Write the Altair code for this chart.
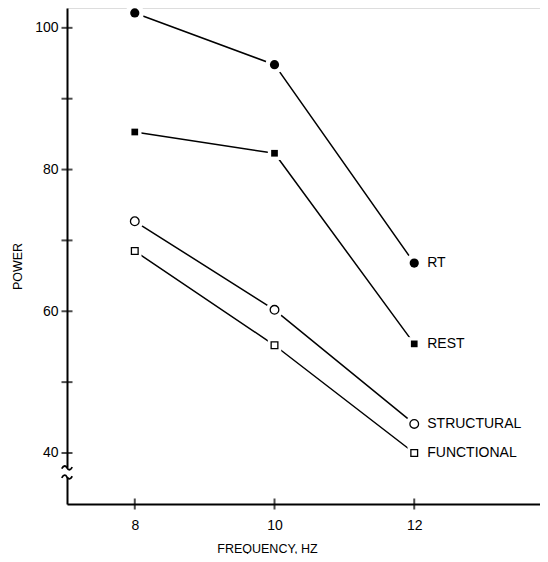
import altair as alt
import pandas as pd

freqs = [8, 10, 12]
series_names = ["RT", "REST", "STRUCTURAL", "FUNCTIONAL"]
rt = [102.1, 94.8, 66.8]
rest = [85.3, 82.3, 55.4]
structural = [72.7, 60.2, 44.1]
functional = [68.5, 55.2, 40.0]
marker_shapes = ["circle", "square", "circle", "square"]
marker_filled = [True, True, False, False]
marker_sizes = [85, 45, 75, 45]

y_ticks = [40, 50, 60, 70, 80, 90, 100]
y_labels = [40, 60, 80, 100]
x_ticks = [8, 10, 12]
break_marks = [37.9, 36.6]

rows = []
for name, vals, shp, fil, sz in zip(series_names, [rt, rest, structural, functional],
                                    marker_shapes, marker_filled, marker_sizes):
    for f, v in zip(freqs, vals):
        rows.append({"series": name, "freq": f, "power": v, "shape": shp,
                     "filled": fil, "msize": sz, "hsize": sz * 4})
df = pd.DataFrame(rows)

W, H = 473, 496
FONT = "Liberation Sans"
xs = alt.Scale(domain=[7.03, 13.8], nice=False, zero=False)
ys = alt.Scale(domain=[32.8, 102.8], nice=False, zero=False)

x_axis = alt.Axis(values=x_ticks, format="d", ticks=False, grid=False, domainColor="black",
                  domainWidth=2, labelFontSize=14, labelFont=FONT, labelColor="black",
                  labelPadding=14, title="FREQUENCY, HZ", titleFont=FONT, titleFontSize=12.5,
                  titleFontWeight="normal", titleColor="black", titlePadding=10,
                  titleX=200, titleAnchor="start", titleAlign="center")
y_axis = alt.Axis(values=y_labels, format="d", ticks=False, grid=False, domainColor="black",
                  domainWidth=2, labelFontSize=14, labelFont=FONT, labelColor="black",
                  labelPadding=9, title="POWER", titleFont=FONT, titleFontSize=12.5,
                  titleFontWeight="normal", titleColor="black", titlePadding=10, titleY=258,
                  titleAnchor="start", titleAlign="center")

base = alt.Chart(df)
x_enc = alt.X("freq:Q", scale=xs, axis=x_axis)
y_enc = alt.Y("power:Q", scale=ys, axis=y_axis)
shape_enc = alt.Shape("shape:N", scale=None, legend=None)
size_enc = alt.Size("msize:Q", scale=None, legend=None)

lines = base.mark_line(color="black", strokeWidth=1.5).encode(x=x_enc, y=y_enc, detail="series:N")

halos = base.mark_point(filled=True, color="white", opacity=1).encode(
    x="freq:Q", y="power:Q", shape=shape_enc,
    size=alt.Size("hsize:Q", scale=None, legend=None))

solid = base.transform_filter(alt.datum.filled == True).mark_point(
    filled=True, color="black", opacity=1).encode(x="freq:Q", y="power:Q", shape=shape_enc, size=size_enc)
hollow = base.transform_filter(alt.datum.filled == False).mark_point(
    filled=False, stroke="black", fill="white", strokeWidth=1.3, opacity=1).encode(
    x="freq:Q", y="power:Q", shape=shape_enc, size=size_enc)

labels = base.transform_filter(alt.datum.freq == 12).mark_text(
    align="left", baseline="middle", dx=13, font=FONT, fontSize=14, color="black").encode(
    x="freq:Q", y="power:Q", text="series:N")

ytick_df = pd.DataFrame({"v": y_ticks})
yticks = alt.Chart(ytick_df).mark_tick(orient="horizontal", color="black", thickness=2, size=11).encode(
    x=alt.value(0), y=alt.Y("v:Q", scale=ys))

xtick_df = pd.DataFrame({"v": x_ticks})
xticks = alt.Chart(xtick_df).mark_tick(orient="vertical", color="black", thickness=2, size=11).encode(
    y=alt.value(H), x=alt.X("v:Q", scale=xs))

wave = "M -1 0.15 C -0.6 -0.55 -0.25 -0.45 0 0 C 0.25 0.45 0.6 0.55 1 -0.15"
brk_df = pd.DataFrame({"v": break_marks})
brk_gap = alt.Chart(pd.DataFrame({"a": [break_marks[0]], "b": [break_marks[1]]})).mark_rule(
    color="white", strokeWidth=5).encode(x=alt.value(0), y=alt.Y("a:Q", scale=ys), y2="b:Q")
brk_wave = alt.Chart(brk_df).mark_point(shape=wave, filled=False, stroke="black", strokeWidth=1.8,
                                        size=110, opacity=1).encode(
    x=alt.value(0), y=alt.Y("v:Q", scale=ys))

chart = alt.layer(lines, halos, solid, hollow, labels, yticks, xticks, brk_gap, brk_wave).properties(
    width=W, height=H, autosize=alt.AutoSizeParams(type="none"),
    padding={"left": 59, "top": 0, "right": 0, "bottom": 50}
).configure_view(stroke=None).configure(background="white")

chart.save("out.html", embed_options={"renderer": "svg", "actions": False})
